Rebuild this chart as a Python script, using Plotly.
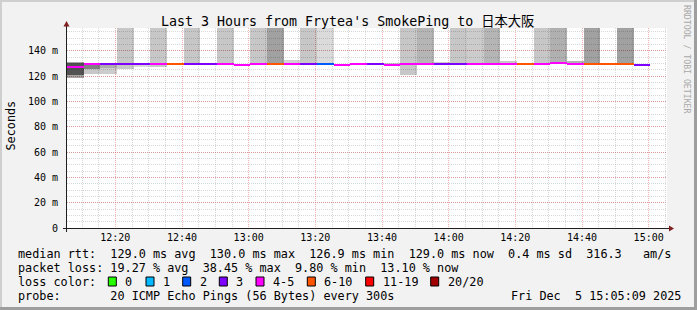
import plotly.graph_objects as go
import pandas as pd

# ---------------- data ----------------
slot_start = pd.date_range("2025-12-05 12:05:30", periods=35, freq="5min")
SLOT_MS = 5 * 60 * 1000

median_ms = [126.9, 129.2, 129.2, 129.2, 129.2, 129.2, 129.2, 129.2, 129.2, 129.2,
             128.9, 129.2, 129.2, 129.2, 129.2, 129.2, 128.9, 129.2, 129.2, 128.9,
             129.2, 129.2, 129.2, 129.2, 129.2, 129.2, 129.2, 129.2, 129.2, 130.0,
             129.8, 129.2, 129.2, 129.2, 129.0]

loss_bucket = ["4-5", "4-5", "3", "3", "3", "4-5", "6-10", "3", "3", "4-5",
               "4-5", "4-5", "6-10", "4-5", "3", "2", "4-5", "4-5", "3", "4-5",
               "4-5", "4-5", "3", "3", "4-5", "4-5", "4-5", "6-10", "4-5", "4-5",
               "4-5", "6-10", "6-10", "6-10", "3"]

LOSS_LABELS = ["0", "1", "2", "3", "4-5", "6-10", "11-19", "20/20"]
LOSS_COLORS = ["#26ff00", "#00b8ff", "#0059ff", "#7e00ff", "#ff00ff", "#ff5500", "#ff0000", "#a10000"]

# smoke reaching the top (lost pings): lower edge and density
tall_from = [None, None, None, 125.8, None, 127.3, None, 129.2, None, 129.2,
             None, 128.6, 129.2, None, 129.4, 129.2, None, None, None, None,
             120.8, 129.2, None, 129.2, 129.2, 129.2, None, None, 129.2, 130.0,
             None, 129.2, None, 129.2, None]
tall_density = [0, 0, 0, .22, 0, .22, 0, .22, 0, .22,
                0, .22, .37, 0, .22, .14, 0, 0, 0, 0,
                .22, .29, 0, .22, .2, .29, 0, 0, .22, .31,
                0, .37, 0, .37, 0]

# ordinary smoke (ping spread)
smoke_lo = [118.6, 121.3, 121.8, None, 127.0, None, None, None, None, None,
            128.4, None, None, 129.2, None, None, 128.4, None, None, 128.0,
            None, None, 129.2, None, None, None, 129.2, None, None, None,
            129.8, None, None, None, None]
smoke_hi = [130.8, 129.8, 129.6, None, 129.6, None, None, None, None, None,
            129.8, None, None, 132.8, None, None, 129.8, None, None, 130.6,
            None, None, 130.8, None, None, None, 131.6, None, None, None,
            131.6, None, None, None, None]
smoke_density = [.35, .22, .2, 0, .15, 0, 0, 0, 0, 0,
                 .2, 0, 0, .18, 0, 0, .2, 0, 0, .2,
                 0, 0, .2, 0, 0, 0, .22, 0, 0, 0,
                 .3, 0, 0, 0, 0]
core_lo = [121.0, 125.5, 126.5]
core_hi = [130.0, 129.8, 129.6]
core_density = [.5, .35, .15]

y_tick_vals = [0, 20, 40, 60, 80, 100, 120, 140]
y_tick_text = ["0", "20 m", "40 m", "60 m", "80 m", "100 m", "120 m", "140 m"]

Y_MAX = 158
X_RANGE = ["2025-12-05 12:05:30", "2025-12-05 15:05:30"]

title_text = "Last 3 Hours from Frytea's SmokePing to 日本大阪"
legend_rows = [
    "median rtt:  129.0 ms avg  130.0 ms max  126.9 ms min  129.0 ms now  0.4 ms sd  316.3   am/s",
    "packet loss: 19.27 % avg  38.45 % max  9.80 % min  13.10 % now",
    "loss color:",
    "probe:       20 ICMP Echo Pings (56 Bytes) every 300s",
]
stamp_text = "Fri Dec  5 15:05:09 2025"

# ---------------- layout geometry (pixels) ----------------
W, H = 697, 310
L, R, T, B = 67, 30, 28, 82
PW, PH = W - L - R, H - T - B
MONO = "DejaVu Sans Mono, Noto Sans CJK JP, monospace"


def PX(x):
    return (x - L) / PW


def PY(y):
    return (T + PH - y) / PH


centers = [t + pd.Timedelta(milliseconds=SLOT_MS / 2) for t in slot_start]

fig = go.Figure()


def add_bars(xs, bases, tops, dens):
    xx, bb, hh, cc = [], [], [], []
    for x, b, t, d in zip(xs, bases, tops, dens):
        if b is None or t is None or d == 0:
            continue
        xx.append(x)
        bb.append(b)
        hh.append(t - b)
        cc.append(f"rgba(0,0,0,{d})")
    fig.add_trace(go.Bar(x=xx, y=hh, base=bb, width=SLOT_MS,
                         marker=dict(color=cc, line=dict(width=0)),
                         hoverinfo="skip", showlegend=False))


add_bars(centers, tall_from, [Y_MAX if v is not None else None for v in tall_from], tall_density)
add_bars(centers, smoke_lo, smoke_hi, smoke_density)
add_bars(centers[:len(core_lo)], core_lo, core_hi, core_density)

# median line segments coloured by loss
LINE_MS = 2 / (PH / Y_MAX)
med_colors = [LOSS_COLORS[LOSS_LABELS.index(b)] for b in loss_bucket]
fig.add_trace(go.Bar(x=centers, y=[LINE_MS] * len(median_ms),
                     base=[m - LINE_MS / 2 for m in median_ms], width=SLOT_MS,
                     marker=dict(color=med_colors, line=dict(width=0)),
                     hoverinfo="skip", showlegend=False))

MGRID = "rgba(222,79,79,0.45)"
GRID = "rgba(143,143,143,0.35)"
DOTS = "1px,1px"

fig.update_layout(
    width=W, height=H,
    margin=dict(l=L, r=R, t=T, b=B, pad=0),
    paper_bgcolor="#f2f2f2", plot_bgcolor="#ffffff",
    barmode="overlay", bargap=0, showlegend=False,
    font=dict(family=MONO, color="#000000"),
    xaxis=dict(type="date", range=X_RANGE, tickformat="%H:%M",
               tick0="2025-12-05 12:00", dtick=20 * 60 * 1000,
               showgrid=True, gridcolor=MGRID, griddash=DOTS, gridwidth=1,
               minor=dict(dtick=5 * 60 * 1000, tick0="2025-12-05 12:00",
                          showgrid=True, gridcolor=GRID, griddash=DOTS, gridwidth=1),
               showline=False, zeroline=False, ticks="",
               tickfont=dict(family=MONO, size=10, color="#000000"),
               ticklabelstandoff=2, fixedrange=True),
    yaxis=dict(range=[0, Y_MAX], tickmode="array", tickvals=y_tick_vals, ticktext=y_tick_text,
               showgrid=True, gridcolor=MGRID, griddash=DOTS, gridwidth=1,
               minor=dict(dtick=5, tick0=0, showgrid=True, gridcolor=GRID, griddash=DOTS, gridwidth=1),
               showline=False, zeroline=False, ticks="",
               tickfont=dict(family=MONO, size=10, color="#000000"),
               ticklabelstandoff=8, fixedrange=True),
)

ann = []
ann.append(dict(text=title_text, x=PX(347.5), y=PY(21.5), xanchor="center", yanchor="middle",
                font=dict(family=MONO, size=13.3, color="#000000")))
ann.append(dict(text="Seconds", x=PX(10.5), y=PY(126), xanchor="center", yanchor="middle",
                textangle=-90, font=dict(family=MONO, size=11.8, color="#000000")))
ann.append(dict(text="RRDTOOL / TOBI OETIKER", x=PX(687), y=PY(59), xanchor="center", yanchor="middle",
                textangle=90, font=dict(family=MONO, size=8.2, color="#a8a8a8")))
row_y = [254, 268, 281.7, 296]
for txt, yy in zip(legend_rows, row_y):
    ann.append(dict(text=txt.replace(" ", "\u00a0"), x=PX(16), y=PY(yy), xanchor="left", yanchor="middle",
                    font=dict(family=MONO, size=11.8, color="#000000")))
ann.append(dict(text=stamp_text.replace(" ", "\u00a0"), x=PX(683), y=PY(296), xanchor="right", yanchor="middle",
                font=dict(family=MONO, size=11.8, color="#000000")))

shapes = []
box_x = [108.3, 146, 182.7, 219.3, 256, 307.3, 365.7, 430.7]
for bx, lab, col in zip(box_x, LOSS_LABELS, LOSS_COLORS):
    shapes.append(dict(type="rect", xref="paper", yref="paper",
                       x0=PX(bx), x1=PX(bx + 8), y0=PY(286), y1=PY(277),
                       fillcolor=col, line=dict(color="#000000", width=1)))
    ann.append(dict(text=lab, x=PX(bx + 15), y=PY(281.7), xanchor="left", yanchor="middle",
                    font=dict(family=MONO, size=11.8, color="#000000")))

for a in ann:
    a.update(xref="paper", yref="paper", showarrow=False)

AXIS = "#1f1f1f"
ARROW = "#7f1f1f"
# axis lines extending slightly beyond the canvas, with arrows
shapes.append(dict(type="line", xref="paper", yref="paper", x0=PX(63), x1=PX(671),
                   y0=PY(228.5), y1=PY(228.5), line=dict(color=AXIS, width=1)))
shapes.append(dict(type="line", xref="paper", yref="paper", x0=PX(66.5), x1=PX(66.5),
                   y0=PY(232), y1=PY(25), line=dict(color=AXIS, width=1)))
shapes.append(dict(type="path", xref="paper", yref="paper",
                   path=f"M {PX(674)},{PY(228.5)} L {PX(669)},{PY(225.5)} L {PX(669)},{PY(231.5)} Z",
                   fillcolor=ARROW, line=dict(color=ARROW, width=0)))
shapes.append(dict(type="path", xref="paper", yref="paper",
                   path=f"M {PX(66.5)},{PY(21)} L {PX(63.5)},{PY(26.5)} L {PX(69.5)},{PY(26.5)} Z",
                   fillcolor=ARROW, line=dict(color=ARROW, width=0)))
# 3D frame
shapes.append(dict(type="rect", xref="paper", yref="paper", x0=PX(0), x1=PX(W), y0=PY(2), y1=PY(0),
                   fillcolor="#cfcfcf", line=dict(width=0)))
shapes.append(dict(type="rect", xref="paper", yref="paper", x0=PX(0), x1=PX(2), y0=PY(H), y1=PY(0),
                   fillcolor="#cfcfcf", line=dict(width=0)))
shapes.append(dict(type="rect", xref="paper", yref="paper", x0=PX(0), x1=PX(W), y0=PY(H), y1=PY(307),
                   fillcolor="#9e9e9e", line=dict(width=0)))
shapes.append(dict(type="rect", xref="paper", yref="paper", x0=PX(694), x1=PX(W), y0=PY(H), y1=PY(0),
                   fillcolor="#9e9e9e", line=dict(width=0)))

fig.update_layout(annotations=ann, shapes=shapes)
fig.write_html("out.html")
